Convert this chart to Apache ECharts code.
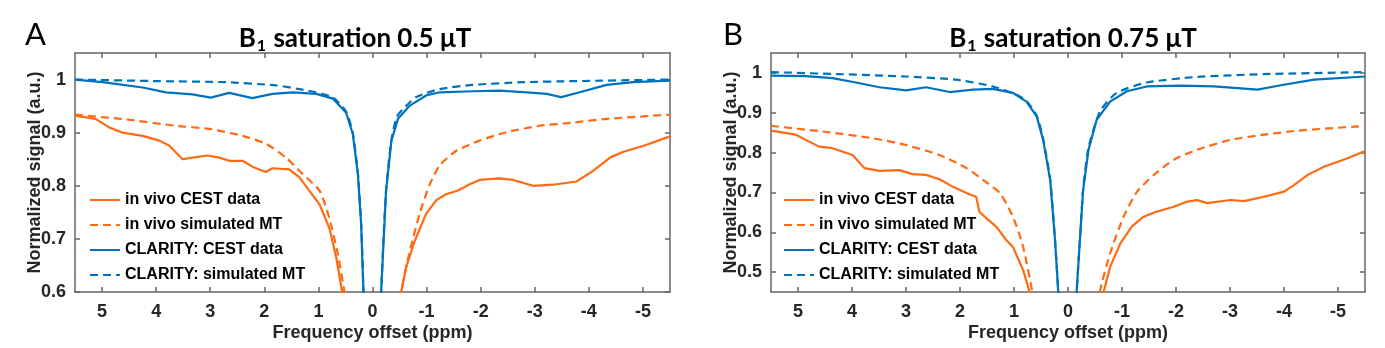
<!DOCTYPE html>
<html>
<head>
<meta charset="utf-8">
<script src="https://cdn.jsdelivr.net/npm/echarts@6/dist/echarts.min.js"></script>
<style>
  html, body { margin: 0; padding: 0; background: #fff; }
  #chart { width: 1385px; height: 348px; }
</style>
</head>
<body>
<div id="chart"></div>
<script>
// x = frequency offset (ppm), y = normalized signal
const X_TICKS = [5, 4, 3, 2, 1, 0, -1, -2, -3, -4, -5];
const Y_TICKS_A = [0.6, 0.7, 0.8, 0.9, 1];
const Y_TICKS_B = [0.5, 0.6, 0.7, 0.8, 0.9, 1];
const NAMES = ["in vivo CEST data", "in vivo simulated MT", "CLARITY: CEST data", "CLARITY: simulated MT"];

// panel A, B1 = 0.5 uT
const A_VIVO_CEST = [[5.5,0.932],[5.12,0.926],[4.87,0.91],[4.62,0.9],[4.25,0.894],[3.94,0.885],[3.76,0.876],[3.51,0.85],[3.33,0.853],[3.05,0.857],[2.83,0.853],[2.65,0.847],[2.4,0.847],[2.22,0.836],[1.97,0.826],[1.85,0.833],[1.54,0.831],[1.35,0.816],[1.17,0.791],[0.98,0.765],[0.8,0.721],[0.67,0.665],[0.56,0.6],[0.4,0.45],[0.2,0.2],[0,0.05],[-0.2,0.2],[-0.4,0.45],[-0.53,0.6],[-0.62,0.646],[-0.78,0.696],[-0.99,0.747],[-1.18,0.773],[-1.36,0.784],[-1.58,0.791],[-1.8,0.803],[-1.98,0.811],[-2.35,0.814],[-2.6,0.811],[-2.97,0.8],[-3.34,0.802],[-3.77,0.808],[-4.08,0.828],[-4.39,0.853],[-4.64,0.864],[-5.0,0.875],[-5.5,0.893]];
const A_VIVO_MT = [[5.5,0.934],[4.56,0.925],[3.64,0.913],[3.02,0.907],[2.4,0.894],[1.97,0.879],[1.6,0.853],[1.29,0.822],[0.98,0.791],[0.8,0.74],[0.64,0.671],[0.52,0.6],[0.35,0.45],[0.15,0.2],[0,0.1],[-0.15,0.2],[-0.35,0.45],[-0.53,0.6],[-0.69,0.677],[-0.87,0.747],[-1.06,0.803],[-1.24,0.838],[-1.55,0.866],[-1.98,0.885],[-2.48,0.901],[-3.09,0.913],[-3.71,0.919],[-4.33,0.926],[-5.5,0.934]];
const A_CLAR_CEST = [[5.5,1.0],[4.99,0.995],[4.25,0.985],[3.82,0.976],[3.33,0.972],[2.99,0.966],[2.65,0.975],[2.22,0.965],[1.85,0.973],[1.48,0.976],[1.04,0.973],[0.73,0.964],[0.49,0.938],[0.365,0.898],[0.27,0.822],[0.21,0.728],[0.167,0.6],[0.1,0.35],[0,0.05],[-0.1,0.35],[-0.16,0.6],[-0.25,0.79],[-0.35,0.885],[-0.47,0.926],[-0.69,0.951],[-0.99,0.97],[-1.24,0.976],[-1.86,0.978],[-2.35,0.979],[-2.85,0.976],[-3.22,0.973],[-3.49,0.967],[-3.83,0.976],[-4.33,0.99],[-4.82,0.995],[-5.5,0.998]];
const A_CLAR_MT = [[5.5,1.0],[3.94,0.997],[2.71,0.995],[1.78,0.989],[1.35,0.982],[1.04,0.976],[0.73,0.966],[0.49,0.94],[0.365,0.9],[0.27,0.824],[0.21,0.73],[0.167,0.6],[0.1,0.35],[0,0.05],[-0.1,0.35],[-0.16,0.6],[-0.25,0.79],[-0.35,0.887],[-0.45,0.93],[-0.56,0.944],[-0.81,0.967],[-1.24,0.982],[-1.86,0.99],[-2.78,0.995],[-3.71,0.997],[-5.5,1.0]];

// panel B, B1 = 0.75 uT
const B_VIVO_CEST = [[5.5,0.855],[5.04,0.845],[4.61,0.815],[4.36,0.811],[3.99,0.794],[3.77,0.761],[3.49,0.754],[3.12,0.756],[2.88,0.746],[2.63,0.744],[2.38,0.733],[2.13,0.714],[1.82,0.695],[1.7,0.689],[1.64,0.651],[1.51,0.635],[1.33,0.614],[1.14,0.58],[1.02,0.563],[0.83,0.505],[0.71,0.45],[0.45,0.25],[0,0.05],[-0.45,0.25],[-0.66,0.45],[-0.78,0.513],[-0.97,0.572],[-1.18,0.614],[-1.4,0.639],[-1.62,0.651],[-1.96,0.664],[-2.21,0.677],[-2.39,0.681],[-2.58,0.673],[-3.01,0.681],[-3.26,0.678],[-3.63,0.689],[-4.0,0.702],[-4.19,0.719],[-4.44,0.744],[-4.75,0.765],[-5.18,0.786],[-5.5,0.804]];
const B_VIVO_MT = [[5.5,0.867],[4.55,0.853],[3.62,0.836],[3.0,0.819],[2.38,0.794],[1.88,0.761],[1.57,0.731],[1.26,0.698],[1.02,0.639],[0.83,0.563],[0.66,0.45],[0.4,0.25],[0,0.1],[-0.4,0.25],[-0.59,0.45],[-0.78,0.547],[-1.03,0.639],[-1.28,0.702],[-1.59,0.744],[-1.96,0.782],[-2.39,0.807],[-3.01,0.832],[-3.63,0.845],[-4.25,0.855],[-5.5,0.867]];
const B_CLAR_CEST = [[5.5,0.993],[4.86,0.992],[4.36,0.987],[3.93,0.976],[3.49,0.964],[3.0,0.956],[2.63,0.964],[2.19,0.952],[1.76,0.958],[1.39,0.96],[1.02,0.95],[0.77,0.928],[0.58,0.891],[0.46,0.832],[0.33,0.731],[0.24,0.58],[0.18,0.45],[0.1,0.25],[0,0.05],[-0.1,0.25],[-0.16,0.45],[-0.22,0.58],[-0.28,0.706],[-0.38,0.807],[-0.53,0.882],[-0.78,0.928],[-1.09,0.954],[-1.46,0.966],[-2.08,0.968],[-2.7,0.966],[-3.14,0.962],[-3.51,0.958],[-3.94,0.969],[-4.56,0.983],[-5.5,0.991]];
const B_CLAR_MT = [[5.5,1.002],[4.24,0.997],[3.0,0.991],[2.07,0.983],[1.39,0.966],[0.95,0.945],[0.77,0.93],[0.58,0.893],[0.46,0.834],[0.33,0.733],[0.24,0.58],[0.18,0.45],[0.1,0.25],[0,0.05],[-0.1,0.25],[-0.16,0.45],[-0.22,0.58],[-0.28,0.708],[-0.38,0.812],[-0.59,0.903],[-0.9,0.95],[-1.46,0.976],[-2.39,0.99],[-3.63,0.997],[-5.5,1.002]];

const ORANGE = "#FF6A13";
const BLUE = "#0072BD";
const AXIS_COLOR = "#666666";
const TEXT_COLOR = "#262626";
const FONT = "Liberation Sans";

let myChart = echarts.init(document.getElementById("chart"));

function xAxisPair(gridIndex) {
  let base = {
    gridIndex: gridIndex,
    type: "value",
    min: -5.5,
    max: 5.5,
    inverse: true,
    splitLine: { show: false },
    axisLine: { show: true, onZero: false, lineStyle: { color: AXIS_COLOR, width: 1.5 } },
    axisTick: { show: true, inside: true, length: 5, customValues: X_TICKS, lineStyle: { color: AXIS_COLOR, width: 1.5 } },
  };
  return [
    Object.assign({}, base, {
      position: "bottom",
      name: "Frequency offset (ppm)",
      nameLocation: "middle",
      nameGap: 32,
      nameMoveOverlap: false,
      nameTextStyle: { fontFamily: FONT, fontWeight: "bold", fontSize: 18, color: TEXT_COLOR },
      axisLabel: {
        customValues: X_TICKS,
        margin: 11,
        fontFamily: FONT,
        fontWeight: "bold",
        fontSize: 18,
        color: TEXT_COLOR,
      },
    }),
    Object.assign({}, base, { position: "top", axisLabel: { show: false } }),
  ];
}

function yAxisPair(gridIndex, min, ticks) {
  let base = {
    gridIndex: gridIndex,
    type: "value",
    min: min,
    max: 1.05,
    splitLine: { show: false },
    axisLine: { show: true, onZero: false, lineStyle: { color: AXIS_COLOR, width: 1.5 } },
    axisTick: { show: true, inside: true, length: 5, customValues: ticks, lineStyle: { color: AXIS_COLOR, width: 1.5 } },
  };
  return [
    Object.assign({}, base, {
      position: "left",
      name: "Normalized signal (a.u.)",
      nameLocation: "middle",
      nameGap: 31,
      nameMoveOverlap: false,
      nameTextStyle: { fontFamily: FONT, fontWeight: "bold", fontSize: 18, color: TEXT_COLOR },
      axisLabel: {
        customValues: ticks,
        margin: 9,
        fontFamily: FONT,
        fontWeight: "bold",
        fontSize: 18,
        color: TEXT_COLOR,
        formatter: function (value) {
          return String(+value.toFixed(2));
        },
      },
    }),
    Object.assign({}, base, { position: "right", axisLabel: { show: false } }),
  ];
}

function panelSeries(xIndex, yIndex, vivoCest, vivoMt, clarCest, clarMt) {
  let list = [
    [NAMES[0], vivoCest, ORANGE, "solid"],
    [NAMES[1], vivoMt, ORANGE, "dashed"],
    [NAMES[2], clarCest, BLUE, "solid"],
    [NAMES[3], clarMt, BLUE, "dashed"],
  ];
  return list.map(function (item) {
    let dashed = item[3] === "dashed";
    return {
      name: item[0],
      type: "line",
      xAxisIndex: xIndex,
      yAxisIndex: yIndex,
      data: item[1],
      symbol: "none",
      smooth: dashed ? 0.2 : false,
      clip: true,
      lineStyle: { color: item[2], width: 2.2, type: dashed ? [8, 5] : "solid" },
      itemStyle: { color: item[2] },
      animation: false,
    };
  });
}

function titleText(sat) {
  return "{b|B}{s|1}{b| saturation " + sat + " μT}";
}
let titleRich = {
  b: { fontFamily: "Lato", fontWeight: "bold", fontSize: 26, color: "#000", height: 32 },
  s: { fontFamily: "Lato", fontWeight: "bold", fontSize: 16, color: "#000", padding: [15, 1, 0, 1], height: 32 },
};

function legendAt(left) {
  return {
    left: left,
    top: 187,
    orient: "vertical",
    itemWidth: 30,
    itemHeight: 14,
    itemGap: 9,
    data: NAMES,
    itemStyle: { opacity: 0 },
    textStyle: { fontFamily: FONT, fontWeight: "bold", fontSize: 16, color: "#000" },
    selectedMode: false,
  };
}

let xa = xAxisPair(0).concat(xAxisPair(1));
let ya = yAxisPair(0, 0.6, Y_TICKS_A).concat(yAxisPair(1, 0.45, Y_TICKS_B));

let option = {
  animation: false,
  backgroundColor: "#fff",
  title: [
    { text: "A", left: 20, top: 14, textStyle: { fontFamily: "Lato", fontWeight: "normal", fontSize: 31, color: "#000" } },
    { text: "B", left: 718, top: 14, textStyle: { fontFamily: "Lato", fontWeight: "normal", fontSize: 31, color: "#000" } },
    { text: titleText("0.5"), left: 350, top: 10, textAlign: "center", textStyle: { rich: titleRich } },
    { text: titleText("0.75"), left: 1068, top: 10, textAlign: "center", textStyle: { rich: titleRich } },
  ],
  legend: [legendAt(84), legendAt(778)],
  grid: [
    { left: 75, right: 715, top: 53, bottom: 56 },
    { left: 771, right: 20, top: 53, bottom: 56 },
  ],
  xAxis: xa,
  yAxis: ya,
  series: panelSeries(0, 0, A_VIVO_CEST, A_VIVO_MT, A_CLAR_CEST, A_CLAR_MT)
    .concat(panelSeries(2, 2, B_VIVO_CEST, B_VIVO_MT, B_CLAR_CEST, B_CLAR_MT)),
};

myChart.setOption(option);
window.onresize = myChart.resize;
</script>
</body>
</html>
